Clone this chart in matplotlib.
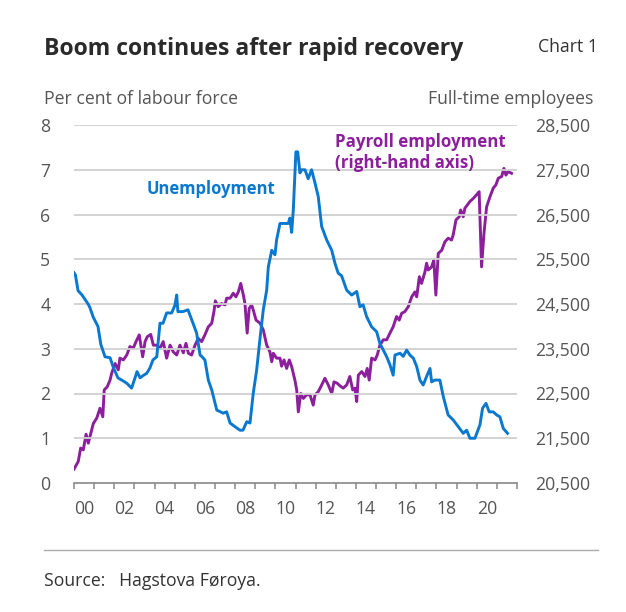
import numpy as np
import matplotlib
matplotlib.use('Agg')
import matplotlib.pyplot as plt

plt.rcParams['font.family'] = ['Open Sans', 'DejaVu Sans']

# --- Data ---
# Unemployment, per cent of labour force (decimal year after 2000)
unemp_t = [0.00, 0.07, 0.20, 0.40, 0.55, 0.70, 0.79, 0.96, 1.19, 1.33, 1.54, 1.79, 1.94,
           2.18, 2.37, 2.62, 2.86, 3.03, 3.13, 3.28, 3.43, 3.61, 3.77, 3.92, 4.11, 4.27,
           4.42, 4.60, 4.85, 5.01, 5.10, 5.16, 5.41, 5.66, 5.91, 6.09, 6.26, 6.34, 6.50,
           6.67, 6.84, 7.09, 7.41, 7.58, 7.75, 7.99, 8.24, 8.39, 8.58, 8.74, 8.90, 9.07,
           9.24, 9.40, 9.57, 9.65, 9.82, 9.98, 10.06, 10.23, 10.64, 10.72, 10.81, 10.89,
           11.02, 11.11, 11.22, 11.31, 11.47, 11.63, 11.80, 11.97, 12.13, 12.30, 12.55,
           12.80, 12.96, 13.12, 13.29, 13.54, 13.79, 14.04, 14.20, 14.36, 14.53, 14.78,
           15.03, 15.19, 15.53, 15.69, 15.85, 15.94, 16.19, 16.35, 16.52, 16.68, 16.85,
           17.02, 17.18, 17.34, 17.51, 17.68, 17.76, 17.92, 18.17, 18.34, 18.58, 18.83,
           19.08, 19.33, 19.50, 19.66, 19.91, 20.16, 20.29, 20.46, 20.62, 20.82, 20.99,
           21.15, 21.32, 21.53]
unemp = [4.70, 4.65, 4.30, 4.20, 4.10, 4.00, 3.92, 3.70, 3.50, 3.10, 2.82, 2.80, 2.60,
         2.35, 2.30, 2.23, 2.12, 2.35, 2.49, 2.35, 2.40, 2.45, 2.57, 2.75, 2.82, 3.57,
         3.57, 3.80, 3.80, 3.97, 4.20, 3.83, 3.83, 3.87, 3.57, 3.35, 2.86, 2.83, 2.75,
         2.30, 2.08, 1.63, 1.56, 1.59, 1.34, 1.26, 1.18, 1.18, 1.37, 1.34, 2.00, 2.52,
         3.24, 3.87, 4.31, 4.83, 5.20, 5.10, 5.43, 5.80, 5.80, 5.92, 5.60, 6.10,
         7.40, 7.40, 6.93, 7.00, 7.00, 6.80, 7.00, 6.70, 6.40, 5.73, 5.43,
         5.20, 4.91, 4.69, 4.63, 4.31, 4.20, 4.28, 3.94, 3.98, 3.72, 3.49,
         3.38, 3.12, 2.82, 2.64, 2.41, 2.86, 2.90, 2.83, 2.97, 2.86, 2.79,
         2.60, 2.30, 2.19, 2.38, 2.56, 2.26, 2.30, 2.30, 1.93, 1.52, 1.41,
         1.26, 1.11, 1.18, 1.00, 1.00, 1.30, 1.67, 1.78, 1.59, 1.59, 1.52,
         1.48, 1.22, 1.11]

# Payroll employment, full-time employees (right-hand axis)
pay_t = [0.00, 0.21, 0.33, 0.46, 0.60, 0.71, 0.96, 1.13, 1.29, 1.43, 1.50, 1.65, 1.79,
         1.87, 2.04, 2.20, 2.28, 2.45, 2.62, 2.78, 2.94, 3.08, 3.24, 3.41, 3.53, 3.64,
         3.81, 3.94, 4.11, 4.27, 4.43, 4.60, 4.77, 4.93, 5.10, 5.26, 5.43, 5.56, 5.68,
         5.84, 6.01, 6.17, 6.34, 6.50, 6.67, 6.84, 6.95, 7.02, 7.16, 7.33, 7.50, 7.58,
         7.75, 7.91, 8.04, 8.16, 8.28, 8.41, 8.49, 8.60, 8.70, 8.82, 8.90, 9.04, 9.24,
         9.40, 9.57, 9.73, 9.82, 9.90, 10.06, 10.23, 10.31, 10.43, 10.56, 10.69, 10.81,
         10.97, 11.06, 11.14, 11.26, 11.39, 11.55, 11.72, 11.88, 11.97, 12.13, 12.30,
         12.46, 12.63, 12.80, 12.91, 13.07, 13.21, 13.37, 13.54, 13.70, 13.84, 13.95,
         14.04, 14.12, 14.29, 14.45, 14.56, 14.66, 14.78, 14.95, 15.06, 15.19, 15.36,
         15.53, 15.69, 15.85, 16.02, 16.15, 16.27, 16.43, 16.60, 16.77, 16.93, 17.02,
         17.15, 17.26, 17.43, 17.51, 17.59, 17.76, 17.87, 17.97, 18.09, 18.26, 18.42,
         18.58, 18.75, 18.83, 18.97, 19.13, 19.20, 19.33, 19.41, 19.53, 19.66, 19.83,
         19.99, 20.12, 20.24, 20.36, 20.49, 20.66, 20.82, 20.95, 21.07, 21.24, 21.35,
         21.45, 21.56, 21.73]
payroll = [20810, 20980, 21280, 21240, 21590, 21390, 21830, 21950, 22170, 21980, 22580,
           22650, 22800, 22950, 23170, 23030, 23290, 23250, 23360, 23550, 23510, 23660,
           23810, 23320, 23660, 23770, 23820, 23580, 23580, 23510, 23660, 23290, 23580,
           23430, 23360, 23580, 23410, 23620, 23400, 23360, 23580, 23730, 23660, 23810,
           23990, 24070, 24330, 24570, 24440, 24510, 24480, 24630, 24630, 24740, 24660,
           24770, 24960, 24700, 24510, 23850, 24400, 24480, 24370, 24140, 24070, 23920,
           23580, 23430, 23210, 23400, 23290, 23290, 23110, 23250, 23060, 23250, 23100,
           22800, 22580, 22090, 22500, 22390, 22470, 22470, 22240, 22470, 22540, 22690,
           22840, 22690, 22500, 22760, 22730, 22670, 22620, 22690, 22880, 22580, 22620,
           22320, 22910, 22990, 22880, 23060, 22800, 23290, 23250, 23360, 23580, 23700,
           23700, 23850, 23990, 24220, 24140, 24290, 24330, 24440, 24660, 24770, 24660,
           25110, 24960, 25220, 25410, 25260, 25330, 25480, 24700, 25630, 25700, 25890,
           25970, 25930, 26040, 26380, 26450, 26600, 26450, 26640, 26710, 26790, 26860,
           26940, 27010, 25330, 26080, 26670, 26900, 27090, 27160, 27310, 27350, 27530,
           27380, 27460, 27420]

year_labels = ['00', '02', '04', '06', '08', '10', '12', '14', '16', '18', '20']
left_ticks = [0, 1, 2, 3, 4, 5, 6, 7, 8]
right_ticks = [20500, 21500, 22500, 23500, 24500, 25500, 26500, 27500, 28500]

BLUE = '#0A78CF'
PURPLE = '#8B1F9C'
GRID = '#D0D0D0'
TXT = '#555555'
FS = 12.7

fig = plt.figure(figsize=(6.26, 6.12), dpi=100)
ax = fig.add_axes([74 / 626, 1 - 483 / 612, (517 - 74) / 626, (483 - 125) / 612])
ax2 = ax.twinx()

x_u = 2000 + np.array(unemp_t)
x_p = 2000 + np.array(pay_t)

ax.set_xlim(2000, 2022)
ax.set_ylim(0, 8)
ax2.set_ylim(20500, 28500)

for v in left_ticks[1:]:
    ax.axhline(v, color=GRID, lw=1.3, zorder=0)

ax.plot(x_u, unemp, color=BLUE, lw=2.1, zorder=3, solid_joinstyle='round')
ax2.plot(x_p, payroll, color=PURPLE, lw=2.1, zorder=3, solid_joinstyle='round')
ax.set_zorder(ax2.get_zorder() + 1)
ax.patch.set_visible(False)

for a in (ax, ax2):
    for s in ('top', 'left', 'right'):
        a.spines[s].set_visible(False)
ax.spines['bottom'].set_color('#888888')
ax.spines['bottom'].set_linewidth(1.2)
ax2.spines['bottom'].set_visible(False)

ax.set_xticks(np.arange(2000, 2023, 1))
ax.set_xticks(np.arange(2000.5, 2021, 2), minor=True)
ax.set_xticklabels([])
ax.set_xticklabels(year_labels, minor=True)
ax.tick_params(axis='x', which='major', length=4, width=1.1, color='#888888')
ax.tick_params(axis='x', which='minor', length=0, pad=12, labelsize=FS, labelcolor=TXT)

ax.set_yticks(left_ticks)
ax.tick_params(axis='y', length=0, pad=17, labelsize=FS, labelcolor=TXT)
ax2.set_yticks(right_ticks)
ax2.set_yticklabels([f'{v:,}' for v in right_ticks])
ax2.tick_params(axis='y', length=0, pad=13, labelsize=FS, labelcolor=TXT)

# Series labels
ax.text(2006.8, 6.45, 'Unemployment', color=BLUE, fontsize=12, fontweight='bold',
        ha='center', va='baseline')
ax.text(2012.95, 7.51, 'Payroll employment', color=PURPLE, fontsize=12.2,
        fontweight='bold', ha='left', va='baseline')
ax.text(2012.95, 7.04, '(right-hand axis)', color=PURPLE, fontsize=12.2,
        fontweight='bold', ha='left', va='baseline')

# Titles and notes
fig.text(44 / 626, 1 - 55 / 612, 'Boom continues after rapid recovery', fontsize=16.6,
         fontweight='bold', color='#2A2A2A', va='baseline')
fig.text(598 / 626, 1 - 52 / 612, 'Chart 1', fontsize=FS, color='#333333',
         ha='right', va='baseline')
fig.text(44 / 626, 1 - 104 / 612, 'Per cent of labour force', fontsize=FS, color=TXT,
         va='baseline')
fig.text(593 / 626, 1 - 104 / 612, 'Full-time employees', fontsize=FS, color=TXT,
         ha='right', va='baseline')
fig.add_artist(plt.Line2D([44 / 626, 598 / 626], [1 - 550 / 612, 1 - 550 / 612],
                          color='#AAAAAA', lw=1.0))
fig.text(44 / 626, 1 - 586 / 612, 'Source:   Hagstova Føroya.', fontsize=FS, color='#333333',
         va='baseline')

fig.savefig('out.png', dpi=100)
